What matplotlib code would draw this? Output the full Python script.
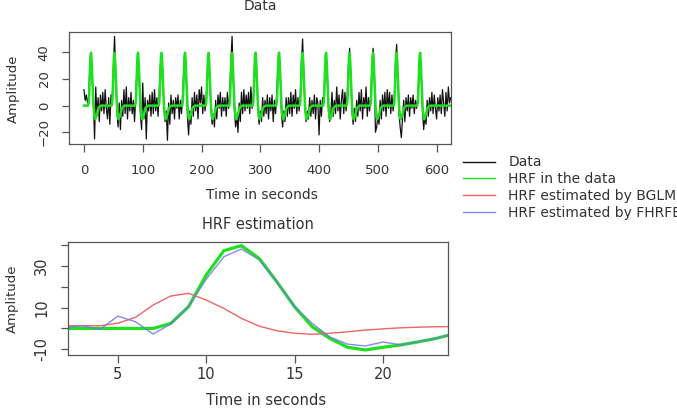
import numpy as np
import matplotlib
matplotlib.use("Agg")
import matplotlib.pyplot as plt

# serie observada (muestreada cada 2 segundos desde t=0)
datos = [
    12, 4, 8, 2, 6, 30, 38, 20, 4, -25, 14, -8, 6, -12, 8, -4, 10, -6, 12, -2,
    -10, 6, -14, 8, 4, 28, 52, 24, -4, -16, 2, -18, 4, -8, 12, -6, 14, -10, 6, -4,
    10, -6, 4, -12, 6, 26, 40, 18, -6, -18, 17, -10, 6, -25, 4, -4, 8, -8, 10, -6,
    12, -4, 6, -8, 10, 30, 38, 26, -2, -12, -4, -26, 2, -14, 8, -6, 4, -10, 6, -2,
    8, -10, 4, -6, 10, 28, 40, 20, -8, -22, -4, -14, 6, -8, 10, -4, 8, -10, 12, 2,
    14, -6, 8, -4, 6, 24, 38, 22, -2, -14, -6, -16, 4, -10, 8, -2, 10, -8, 6, -4,
    6, -8, 10, -2, 8, 34, 52, 20, -4, -16, -8, -20, 2, -12, 10, -6, 12, -4, 8, -2,
    10, -6, 14, -2, 6, 26, 40, 24, -4, -14, -4, -12, 6, -8, 4, -6, 8, -10, 6, -4,
    8, -12, 4, -6, 10, 28, 40, 22, -6, -16, -4, -12, 6, -8, 6, -6, 10, -8, 8, -2,
    12, -6, 6, -4, 8, 32, 50, 24, -2, -12, -4, -10, 6, -8, 4, -6, 8, -10, 6, 2,
    -22, 4, -8, 6, 2, 24, 38, 20, -4, -12, -6, 10, -8, 4, -6, 14, -4, 8, -10, 4,
    12, -6, 10, -4, 8, 30, 43, 22, -4, -14, -2, -12, 4, -8, 10, -4, 12, -10, 6, -2,
    14, -8, 6, -4, 8, 30, 43, 24, -20, -16, -8, -14, 4, -10, 8, -4, 10, -8, 12, -2,
    10, -6, 8, -4, 6, 32, 46, 22, -6, -16, -24, -10, 4, -12, 6, -4, 8, -8, 6, -2,
    8, -6, 4, -2, 6, 24, 38, 20, -4, -18, -8, -14, 4, -8, 6, -4, 10, -6, 8, -2,
    -10, 6, -4, 8, -6, 12, 2, -8, 10, -4, 14, 2, 6,
]

# inicio de cada estimulo (segundos)
inicios = [0, 40, 80, 120, 160, 200, 240, 280, 320, 360, 400, 440, 480, 520, 560]

# curvas HRF del panel de abajo, una muestra por segundo
tiempo_hrf = list(range(2, 25))
hrf_real = [0, 0, 0, 0, 0, 0, 2.4, 10.4, 25.5, 37.2, 39.6, 33.5, 22.3, 10.4,
            0.8, -4.8, -9.0, -10.3, -9.0, -7.9, -6.4, -4.8, -2.6]
hrf_bglm = [1.3, 1.3, 1.3, 2.5, 5.3, 11.2, 15.5, 16.8, 13.6, 9.6, 4.8, 1.1,
            -1.1, -2.3, -2.8, -2.3, -1.6, -0.8, -0.2, 0.3, 0.6, 0.8, 0.9]
hrf_fhrfe = [0.5, 1.3, -0.4, 5.9, 3.2, -2.7, 2.2, 10.4, 23.5, 34.3, 38.0, 32.8,
             22.3, 10.4, 2.4, -4.1, -7.5, -8.4, -6.5, -7.8, -6.4, -4.8, -2.6]
# cola de la HRF despues de los 24 s (vuelve a cero)
cola_hrf = [-1.6, -1.0, -0.6, -0.3, 0, 0, 0, 0, 0, 0, 0, 0, 0, 0, 0]

VERDE = "#1ee01e"
ROJO = "#f06464"
AZUL = "#7474ee"
GRIS = "#555555"
TEXTO = "#333333"

# armo la HRF de un ciclo (t=0..39) y la repito en cada inicio
hrf_ciclo = np.array([0, 0] + hrf_real + cola_hrf, dtype=float)
tiempo_senal = np.arange(0, 625)
senal = np.zeros(len(tiempo_senal))
for ini in inicios:
    senal[ini:ini + len(hrf_ciclo)] += hrf_ciclo
tiempo_datos = np.arange(len(datos)) * 2

W, H = 677, 412
fig = plt.figure(figsize=(W / 100, H / 100), dpi=100)


def caja(izq, arriba, der, abajo):
    # paso coordenadas en pixeles a fracciones de figura
    return [izq / W, 1 - abajo / H, (der - izq) / W, (abajo - arriba) / H]


def estilo(ax, tam_ticks, pad_x, pad_y):
    for spine in ax.spines.values():
        spine.set_edgecolor(GRIS)
        spine.set_linewidth(0.9)
    ax.tick_params(axis="both", direction="out", length=5.4, width=0.9,
                   color=GRIS, labelcolor=TEXTO, labelsize=tam_ticks)
    ax.tick_params(axis="x", pad=pad_x)
    ax.tick_params(axis="y", pad=pad_y)
    for lab in ax.get_yticklabels():
        lab.set_rotation(90)
        lab.set_va("center")


# panel de arriba: datos + HRF verdadera
ax1 = fig.add_axes(caja(69.3, 32.3, 450.7, 144.3))
ax1.plot(tiempo_datos, datos, color="#111111", lw=0.9, label="Data")
ax1.plot(tiempo_senal, senal, color=VERDE, lw=1.8, label="HRF in the data")
ax1.set_xlim(-25, 624)
ax1.set_ylim(-29, 55)
ax1.set_xticks([0, 100, 200, 300, 400, 500, 600])
ax1.set_yticks([-20, 0, 20, 40])
estilo(ax1, 9.5, 8.5, 8)

# panel de abajo: estimaciones de la HRF
ax2 = fig.add_axes(caja(68.3, 242.3, 448.3, 355))
ax2.plot(tiempo_hrf, hrf_real, color=VERDE, lw=2.3)
ax2.plot(tiempo_hrf, hrf_bglm, color=ROJO, lw=1.0, label="HRF estimated by BGLM")
ax2.plot(tiempo_hrf, hrf_fhrfe, color=AZUL, lw=1.0, alpha=0.85,
         label="HRF estimated by FHRFE")
ax2.set_xlim(2.2, 23.7)
ax2.set_ylim(-12.7, 41.2)
ax2.set_xticks([5, 10, 15, 20])
ax2.set_yticks([-10, 0, 10, 20, 30, 40])
ax2.set_yticklabels(["-10", "", "10", "", "30", ""])
estilo(ax2, 10.5, 3.5, 8.5)

# titulos y etiquetas de ejes en posicion fija
fig.text(260 / W, 1 - 10 / H, "Data", ha="center", va="baseline",
         fontsize=10, color=TEXTO)
fig.text(258.3 / W, 1 - 229.3 / H, "HRF estimation", ha="center",
         va="baseline", fontsize=10.5, color=TEXTO)
fig.text(262 / W, 1 - 199 / H, "Time in seconds", ha="center",
         va="baseline", fontsize=10, color=TEXTO)
fig.text(266.5 / W, 1 - 405 / H, "Time in seconds", ha="center",
         va="baseline", fontsize=10.6, color=TEXTO)
fig.text(13 / W, 1 - 88.3 / H, "Amplitude", ha="center", va="center",
         rotation=90, fontsize=9.5, color=TEXTO)
fig.text(12.5 / W, 1 - 298.6 / H, "Amplitude", ha="center", va="center",
         rotation=90, fontsize=9.5, color=TEXTO)

# leyenda comun a la derecha, sin marco (el ultimo texto queda cortado como en el original)
manijas = [ax1.lines[0], ax1.lines[1], ax2.lines[1], ax2.lines[2]]
leg = fig.legend(manijas, [m.get_label() for m in manijas],
                 loc="upper left", bbox_to_anchor=(463 / W, 1 - 155.5 / H),
                 frameon=False, fontsize=10, handlelength=2.3,
                 handletextpad=0.95, labelspacing=0.2, borderpad=0,
                 borderaxespad=0)
for txt in leg.get_texts():
    txt.set_color(TEXTO)
for linea in leg.get_lines():
    linea.set_linewidth(1.0)

fig.savefig("out.png", dpi=100)
